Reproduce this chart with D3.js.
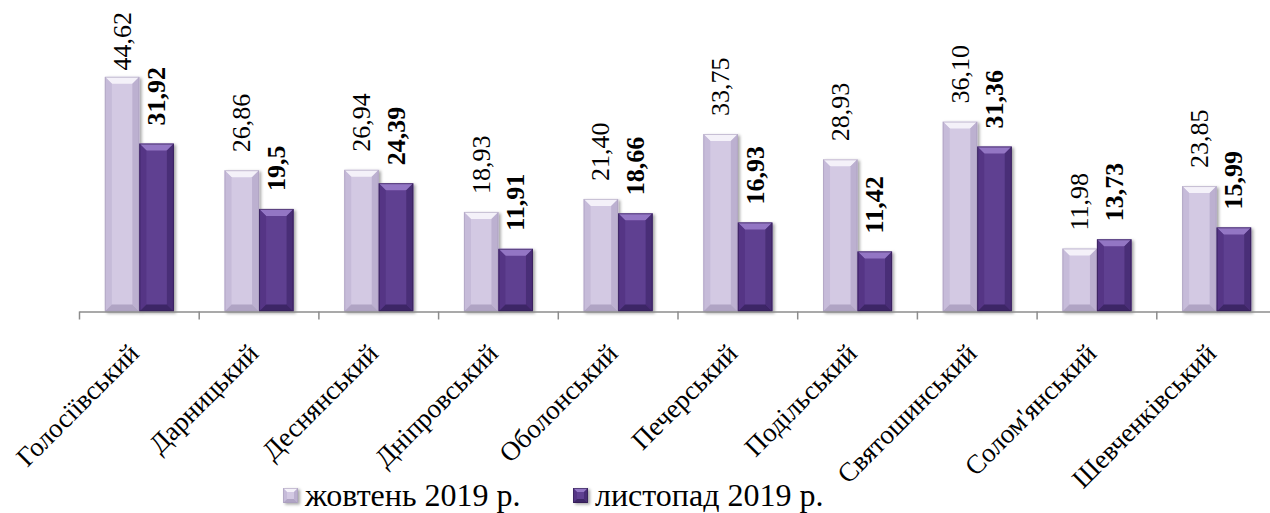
<!DOCTYPE html>
<html>
<head>
<meta charset="utf-8">
<script src="https://cdn.jsdelivr.net/npm/d3@7/dist/d3.min.js"></script>
<style>
  html, body { margin: 0; padding: 0; background: #fff; }
  svg { display: block; }
  text { font-family: "Liberation Serif", "Times New Roman", serif; fill: #000; }
</style>
</head>
<body>
<svg id="chart" width="1270" height="513"></svg>
<script>
const categories = ["Голосіївський", "Дарницький", "Деснянський", "Дніпровський", "Оболонський",
                    "Печерський", "Подільський", "Святошинський", "Солом'янський", "Шевченківський"];
const october = [44.62, 26.86, 26.94, 18.93, 21.40, 33.75, 28.93, 36.10, 11.98, 23.85];
const november = [31.92, 19.5, 24.39, 11.91, 18.66, 16.93, 11.42, 31.36, 13.73, 15.99];
const octoberLabels = ["44,62", "26,86", "26,94", "18,93", "21,40", "33,75", "28,93", "36,10", "11,98", "23,85"];
const novemberLabels = ["31,92", "19,5", "24,39", "11,91", "18,66", "16,93", "11,42", "31,36", "13,73", "15,99"];
const seriesNames = ["жовтень 2019 р.", "листопад 2019 р."];

const svg = d3.select("#chart");
const W = 1270, H = 513;
svg.append("rect").attr("width", W).attr("height", H).attr("fill", "#fff");

const defs = svg.append("defs");
const f = defs.append("filter").attr("id", "sh").attr("x", "-20%").attr("y", "-20%").attr("width", "150%").attr("height", "150%");
f.append("feDropShadow").attr("dx", 2).attr("dy", 1.5).attr("stdDeviation", 1.6)
  .attr("flood-color", "#000").attr("flood-opacity", 0.35);

const baseY = 311.5;
const bandW = 119.7;
const x0 = 79.5;
const x = d3.scaleBand().domain(categories).range([x0, x0 + bandW * categories.length]).padding(0);
const xs = d3.scaleBand().domain([0, 1])
  .range([x.bandwidth() / 2 - 34.5, x.bandwidth() / 2 + 34.5]).padding(0);
const y = d3.scaleLinear().domain([0, 50]).range([baseY, baseY - 5.26 * 50]);

const styles = [
  { face: "#d3c9e3", top: "#f4f1f9", left: "#c6bbd9", right: "#bcb0d0", bottom: "#b0a4c4", stroke: "#a89cba" },
  { face: "#5f3f91", top: "#9376c4", left: "#543685", right: "#4a2e77", bottom: "#3e2566", stroke: "#2e1a4d" }
];

function bevelBar(g, bx, by, w, h, st, bev) {
  const b = Math.min(bev, h / 2, w / 2);
  const gg = g.append("g").attr("filter", "url(#sh)");
  gg.append("rect").attr("x", bx).attr("y", by).attr("width", w).attr("height", h).attr("fill", st.face);
  gg.append("polygon").attr("points", [[bx, by], [bx + w, by], [bx + w - b, by + b], [bx + b, by + b]].join(" ")).attr("fill", st.top);
  gg.append("polygon").attr("points", [[bx, by], [bx + b, by + b], [bx + b, by + h - b], [bx, by + h]].join(" ")).attr("fill", st.left);
  gg.append("polygon").attr("points", [[bx + w, by], [bx + w - b, by + b], [bx + w - b, by + h - b], [bx + w, by + h]].join(" ")).attr("fill", st.right);
  gg.append("polygon").attr("points", [[bx, by + h], [bx + b, by + h - b], [bx + w - b, by + h - b], [bx + w, by + h]].join(" ")).attr("fill", st.bottom);
  gg.append("rect").attr("x", bx + 0.5).attr("y", by + 0.5).attr("width", w - 1).attr("height", h - 1)
    .attr("fill", "none").attr("stroke", st.stroke).attr("stroke-width", 1).attr("stroke-opacity", 0.6);
}

const series = [october, november];
const labels = [octoberLabels, novemberLabels];

const barsG = svg.append("g");
categories.forEach((c, i) => {
  series.forEach((vals, s) => {
    const bx = x(c) + xs(s);
    const by = y(vals[i]);
    bevelBar(barsG, bx, by, xs.bandwidth(), baseY - by, styles[s], 7);
  });
});

// axis
const axisG = svg.append("g");
axisG.append("line").attr("x1", x0).attr("x2", W).attr("y1", baseY + 0.5).attr("y2", baseY + 0.5)
  .attr("stroke", "#8c8c8c").attr("stroke-width", 1.5);
axisG.selectAll("line.tick").data(categories).enter().append("line")
  .attr("x1", d => x(d)).attr("x2", d => x(d))
  .attr("y1", baseY).attr("y2", baseY + 8)
  .attr("stroke", "#8c8c8c").attr("stroke-width", 1.5);

// value labels
const labG = svg.append("g");
categories.forEach((c, i) => {
  series.forEach((vals, s) => {
    const cx = x(c) + xs(s) + xs.bandwidth() / 2;
    const top = y(vals[i]);
    const t = labG.append("text")
      .attr("font-size", 26)
      .attr("font-weight", s === 1 ? "bold" : "normal")
      .attr("text-anchor", "start")
      .text(labels[s][i]);
    const len = t.node().getComputedTextLength();
    let start = top - 18;
    if (start - len < 12) start = 12 + len;
    t.attr("transform", `translate(${cx + 8.5},${start}) rotate(-90)`);
  });
});

// category labels
svg.append("g").selectAll("text").data(categories).enter().append("text")
  .attr("font-size", 27)
  .attr("text-anchor", "end")
  .attr("transform", d => `translate(${x(d) + x.bandwidth() / 2 + 1},${355}) rotate(-45)`)
  .text(d => d);

// legend
const leg = svg.append("g");
const legX = [283, 573];
seriesNames.forEach((name, s) => {
  const lx = legX[s];
  bevelBar(leg, lx, 488, 15, 15, styles[s], 4);
  leg.append("text").attr("x", lx + 22).attr("y", 506).attr("font-size", 32).text(name);
});
</script>
</body>
</html>
